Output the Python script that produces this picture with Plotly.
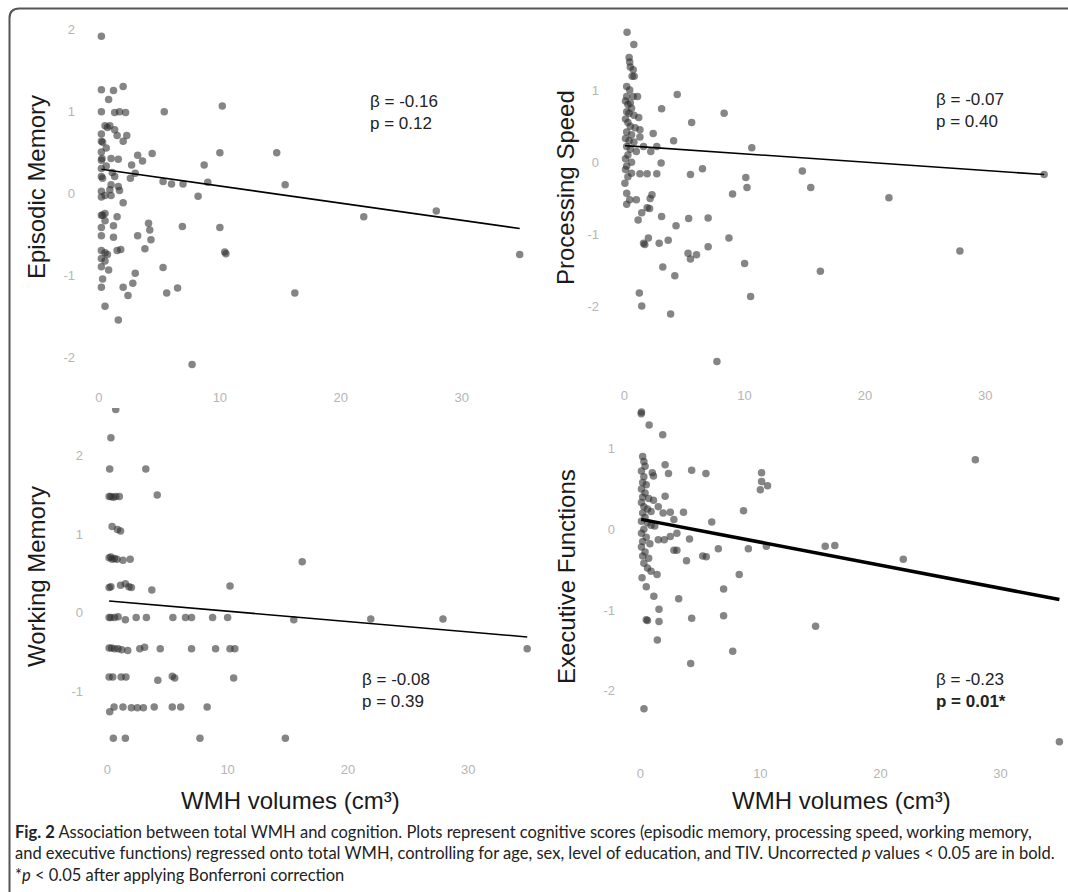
import plotly.graph_objects as go

# ---- data: WMH volume (cm3) vs cognitive score ----
ep_x = [0.2, 0.2, 1.2, 2.0, 0.8, 0.2, 1.3, 1.7, 2.2, 5.4, 10.2, 0.5, 0.7, 0.9, 1.3, 0.2, 1.5, 2.3,
        2.0, 0.2, 0.3, 0.2, 0.6, 3.2, 3.6, 4.4, 10.0, 14.7, 0.2, 0.25, 1.0, 1.6, 8.7, 2.7, 0.2, 0.6,
        0.2, 0.3, 1.1, 1.3, 2.6, 3.0, 5.3, 6.0, 6.95, 9.0, 15.4, 1.0, 1.6, 0.9, 1.7, 0.2, 0.5, 1.0,
        0.2, 8.2, 2.0, 0.2, 0.3, 0.5, 1.5, 21.9, 27.9, 0.5, 0.2, 1.2, 4.1, 4.2, 6.9, 10.0, 0.2, 1.2,
        3.2, 4.3, 3.8, 0.2, 0.5, 0.7, 1.5, 1.8, 10.5, 10.4, 34.8, 0.2, 0.5, 0.2, 0.8, 5.3, 3.0, 0.3,
        0.2, 2.0, 2.8, 2.4, 6.5, 5.6, 16.2, 0.5, 1.6, 7.7]
ep_y = [1.91, 1.26, 1.25, 1.30, 1.14, 0.99, 0.98, 0.99, 0.98, 0.99, 1.06, 0.82, 0.80, 0.82, 0.77,
        0.72, 0.70, 0.70, 0.63, 0.63, 0.62, 0.50, 0.55, 0.46, 0.39, 0.48, 0.49, 0.49, 0.40, 0.42,
        0.42, 0.41, 0.34, 0.34, 0.30, 0.33, 0.20, 0.18, 0.25, 0.20, 0.18, 0.24, 0.14, 0.11, 0.11,
        0.13, 0.10, 0.10, 0.08, 0.04, 0.03, 0.02, -0.03, -0.03, -0.05, -0.04, -0.12, -0.27, -0.27,
        -0.25, -0.29, -0.29, -0.22, -0.34, -0.42, -0.40, -0.37, -0.45, -0.41, -0.42, -0.52, -0.54,
        -0.52, -0.57, -0.68, -0.70, -0.73, -0.75, -0.70, -0.69, -0.74, -0.72, -0.75, -0.80, -0.83,
        -0.90, -0.94, -0.91, -0.98, -1.05, -1.15, -1.15, -1.10, -1.25, -1.16, -1.22, -1.22, -1.38,
        -1.55, -2.09]

ps_x = [0.23, 0.79, 0.4, 0.45, 0.5, 0.74, 0.65, 0.82, 0.2, 0.45, 0.2, 0.74, 1.1, 4.4, 3.1, 8.3, 5.6,
        0.1, 0.3, 0.5, 0.6, 0.2, 0.4, 0.8, 1.2, 0.1, 0.3, 0.5, 0.9, 1.3, 0.2, 0.6, 0.1, 0.4, 0.8,
        0.2, 0.5, 1.0, 0.3, 0.1, 0.6, 0.2, 2.4, 4.1, 10.6, 1.3, 1.6, 2.2, 2.7, 3.06, 0.1, 0.3, 0.6,
        6.5, 5.5, 10.1, 14.8, 10.2, 15.5, 22.0, 9.0, 1.3, 1.9, 2.7, 0.05, 0.2, 0.45, 0.2, 2.3, 2.15,
        1.0, 1.9, 2.1, 1.45, 1.15, 3.1, 5.35, 6.97, 4.3, 8.7, 3.65, 2.9, 2.0, 1.7, 1.6, 6.97, 5.3,
        6.0, 5.5, 27.9, 3.2, 10.0, 4.2, 16.3, 1.25, 1.45, 10.5, 3.85, 7.7, 34.9]
ps_y = [1.80, 1.63, 1.45, 1.39, 1.32, 1.28, 1.19, 1.19, 1.05, 1.00, 0.91, 0.91, 0.91, 0.94, 0.74,
        0.68, 0.55, 0.85, 0.80, 0.82, 0.75, 0.70, 0.68, 0.65, 0.62, 0.60, 0.55, 0.50, 0.48, 0.45,
        0.42, 0.38, 0.33, 0.30, 0.28, 0.22, 0.18, 0.15, 0.10, 0.05, 0.00, -0.05, 0.40, 0.30, 0.20,
        0.35, 0.22, 0.15, 0.22, -0.01, -0.10, -0.20, -0.15, -0.09, -0.17, -0.21, -0.12, -0.35,
        -0.35, -0.49, -0.44, -0.16, -0.16, -0.16, -0.29, -0.43, -0.52, -0.58, -0.45, -0.50, -0.52,
        -0.63, -0.64, -0.70, -0.80, -0.75, -0.78, -0.77, -0.88, -1.05, -1.08, -1.12, -1.05, -1.14,
        -1.12, -1.17, -1.26, -1.28, -1.34, -1.23, -1.45, -1.40, -1.57, -1.51, -1.81, -1.99, -1.86,
        -2.10, -2.76, -0.17]

wm_x = [0.7, 0.3, 0.2, 3.2, 0.15, 0.3, 0.5, 0.7, 1.0, 4.15, 0.4, 0.85, 1.1, 0.15, 0.3, 0.4, 0.6,
        0.8, 1.3, 1.9, 16.2, 0.15, 0.3, 1.1, 1.5, 2.0, 1.8, 3.7, 10.2, 0.15, 0.3, 0.6, 0.9, 1.5,
        2.4, 3.25, 5.45, 6.5, 7.0, 8.75, 10.0, 15.5, 21.9, 27.9, 0.15, 0.35, 0.6, 0.9, 1.2, 1.7,
        2.7, 3.1, 4.4, 7.0, 9.0, 10.2, 10.6, 34.9, 0.15, 0.45, 1.15, 1.55, 4.2, 5.4, 5.6, 10.5,
        0.2, 0.56, 1.3, 2.0, 2.5, 3.0, 3.9, 5.4, 6.1, 8.3, 0.5, 1.5, 7.7, 14.8]
wm_y = [2.59, 2.23, 1.83, 1.83, 1.48, 1.48, 1.47, 1.48, 1.48, 1.50, 1.10, 1.06, 1.04, 0.70, 0.71,
        0.68, 0.69, 0.68, 0.67, 0.68, 0.65, 0.32, 0.33, 0.35, 0.37, 0.32, 0.33, 0.29, 0.34, -0.06,
        -0.06, -0.06, -0.05, -0.09, -0.06, -0.06, -0.06, -0.06, -0.06, -0.06, -0.06, -0.09, -0.08,
        -0.08, -0.45, -0.45, -0.46, -0.46, -0.47, -0.48, -0.46, -0.44, -0.46, -0.46, -0.46, -0.46,
        -0.46, -0.46, -0.82, -0.82, -0.82, -0.82, -0.86, -0.81, -0.83, -0.83, -1.26, -1.20, -1.20,
        -1.21, -1.21, -1.21, -1.20, -1.20, -1.20, -1.20, -1.60, -1.60, -1.60, -1.60]

ef_x = [0.08, 0.1, 0.74, 1.87, 27.9, 0.2, 0.3, 0.4, 2.07, 2.35, 4.28, 5.47, 10.1, 10.1, 10.6, 10.0,
        1.0, 1.1, 0.1, 0.3, 0.2, 0.5, 0.1, 0.4, 0.2, 0.7, 0.1, 0.3, 0.6, 0.9, 0.2, 0.4, 0.1, 0.6,
        0.9, 0.3, 0.1, 0.5, 0.2, 0.8, 0.1, 0.4, 0.2, 0.7, 0.3, 0.6, 0.9, 1.4, 0.15, 1.1, 2.07, 1.5,
        3.6, 8.6, 1.9, 2.5, 2.8, 5.95, 1.2, 3.05, 2.5, 2.0, 1.5, 4.1, 2.8, 3.05, 6.5, 9.0, 10.5,
        15.4, 16.2, 3.85, 5.2, 5.5, 21.9, 8.24, 0.5, 6.94, 1.13, 3.2, 1.56, 0.5, 0.6, 1.56, 4.28,
        6.94, 14.6, 1.42, 7.7, 4.2, 0.31, 34.9]
ef_y = [1.43, 1.45, 1.29, 1.17, 0.86, 0.90, 0.84, 0.78, 0.80, 0.69, 0.73, 0.69, 0.70, 0.59, 0.54,
        0.49, 0.70, 0.66, 0.72, 0.65, 0.58, 0.55, 0.50, 0.45, 0.40, 0.38, 0.33, 0.28, 0.25, 0.22,
        0.20, 0.15, 0.10, 0.08, 0.05, 0.00, -0.05, -0.10, -0.15, -0.18, -0.22, -0.28, -0.33, -0.36,
        -0.42, -0.48, -0.52, -0.56, -0.60, 0.36, 0.41, 0.28, 0.21, 0.23, 0.20, 0.21, 0.12, 0.09,
        0.04, -0.05, -0.09, -0.13, -0.13, -0.12, -0.26, -0.26, -0.24, -0.24, -0.21, -0.21, -0.20,
        -0.39, -0.33, -0.34, -0.37, -0.56, -0.71, -0.74, -0.83, -0.86, -0.99, -1.12, -1.13, -1.14,
        -1.10, -1.07, -1.20, -1.37, -1.51, -1.66, -2.22, -2.63]

# regression fits drawn in each panel
fit_intercept = [0.294, 0.232, 0.152, 0.125]
fit_slope = [-0.0209, -0.0115, -0.0132, -0.0285]

panel_titles = ["Episodic Memory", "Processing Speed", "Working Memory", "Executive Functions"]
betas = ["-0.16", "-0.07", "-0.08", "-0.23"]
pvals = ["0.12", "0.40", "0.39", "0.01*"]
x_ticks = [0, 10, 20, 30]
y_ticks = [[-2, -1, 0, 1, 2], [-2, -1, 0, 1], [-1, 0, 1, 2], [-2, -1, 0, 1]]
x_title = "WMH volumes (cm³)"

W, H = 1068, 892
FONT = "Arial"


def fx(p):
    return p / W


def fy(p):
    return 1 - p / H


# pixel boxes for each panel (x domain, y domain top/bottom) and axis ranges
panels = [
    dict(xd=(76, 526), xr=(-1.90, 35.32), yd=(22, 388), yr=(-2.378, 2.085), tl=(36, 187), st=(368, 112)),
    dict(xd=(600, 1050), xr=(-2.02, 35.39), yd=(22, 386), yr=(-3.098, 1.943), tl=(566, 188), st=(934, 111)),
    dict(xd=(84, 532), xr=(-1.937, 35.30), yd=(408, 760), yr=(-1.876, 2.608), tl=(36, 577), st=(360, 690)),
    dict(xd=(616, 1066), xr=(-2.02, 35.45), yd=(408, 764), yr=(-2.905, 1.501), tl=(566, 577), st=(934, 690)),
]
xs = [ep_x, ps_x, wm_x, ef_x]
ys = [ep_y, ps_y, wm_y, ef_y]

fig = go.Figure()
annotations = []
layout_axes = {}
for i, p in enumerate(panels):
    sfx = "" if i == 0 else str(i + 1)
    fig.add_trace(go.Scatter(x=xs[i], y=ys[i], mode="markers", xaxis="x" + sfx, yaxis="y" + sfx,
                             marker=dict(size=7.5, color="rgba(45,45,45,0.58)", line=dict(width=0)),
                             hoverinfo="skip", showlegend=False))
    x_lo, x_hi = min(xs[i]), max(xs[i])
    fig.add_trace(go.Scatter(x=[x_lo, x_hi],
                             y=[fit_intercept[i] + fit_slope[i] * x_lo, fit_intercept[i] + fit_slope[i] * x_hi],
                             mode="lines", xaxis="x" + sfx, yaxis="y" + sfx,
                             line=dict(color="black", width=3.5 if i == 3 else 1.6),
                             hoverinfo="skip", showlegend=False))
    tick_font = dict(family=FONT, size=13, color="#b5b5b5")
    layout_axes["xaxis" + sfx] = dict(domain=[fx(p["xd"][0]), fx(p["xd"][1])], range=list(p["xr"]),
                                      anchor="y" + sfx, tickvals=x_ticks, showgrid=False, zeroline=False,
                                      showline=False, ticks="", tickfont=tick_font)
    layout_axes["yaxis" + sfx] = dict(domain=[fy(p["yd"][1]), fy(p["yd"][0])], range=list(p["yr"]),
                                      anchor="x" + sfx, tickvals=y_ticks[i],
                                      ticktext=[str(v) for v in y_ticks[i]],
                                      showgrid=False, zeroline=False,
                                      showline=False, ticks="", tickfont=tick_font)
    annotations.append(dict(text=panel_titles[i], x=fx(p["tl"][0]), y=fy(p["tl"][1]), xref="paper", yref="paper",
                            textangle=-90, showarrow=False, xanchor="center", yanchor="middle",
                            font=dict(family=FONT, size=24, color="#1a1a1a")))
    ptxt = f"<b>p = {pvals[i]}</b>" if pvals[i].endswith("*") else f"p = {pvals[i]}"
    annotations.append(dict(text=f"β = {betas[i]}<br>{ptxt}", x=fx(p["st"][0]), y=fy(p["st"][1]),
                            xref="paper", yref="paper", showarrow=False, xanchor="left", yanchor="middle",
                            align="left", font=dict(family=FONT, size=17, color="#222")))

for cx in (290, 841):
    annotations.append(dict(text=x_title, x=fx(cx), y=fy(800), xref="paper", yref="paper", showarrow=False,
                            xanchor="center", yanchor="middle",
                            font=dict(family=FONT, size=24, color="#1a1a1a")))

caption = ("<b>Fig. 2</b> Association between total WMH and cognition. Plots represent cognitive scores "
           "(episodic memory, processing speed, working memory,<br>and executive functions) regressed onto "
           "total WMH, controlling for age, sex, level of education, and TIV. Uncorrected <i>p</i> values "
           "&lt; 0.05 are in bold.<br>*<i>p</i> &lt; 0.05 after applying Bonferroni correction")
annotations.append(dict(text=caption, x=fx(13), y=fy(853), xref="paper", yref="paper", showarrow=False,
                        xanchor="left", yanchor="middle", align="left",
                        font=dict(family="Lato", size=16.5, color="#222")))

frame = (f"M {fx(9.5)},{fy(892)} L {fx(9.5)},{fy(18)} Q {fx(9.5)},{fy(8.5)} {fx(19.5)},{fy(8.5)} "
         f"L {fx(1068)},{fy(8.5)}")

fig.update_layout(width=W, height=H, margin=dict(l=0, r=0, t=0, b=0),
                  paper_bgcolor="white", plot_bgcolor="white", annotations=annotations,
                  shapes=[dict(type="path", path=frame, xref="paper", yref="paper",
                               line=dict(color="#555", width=2))],
                  **layout_axes)
fig.write_html("out.html", config=dict(displayModeBar=False),
               post_script="document.body.style.margin='0';document.body.style.overflow='hidden';")
